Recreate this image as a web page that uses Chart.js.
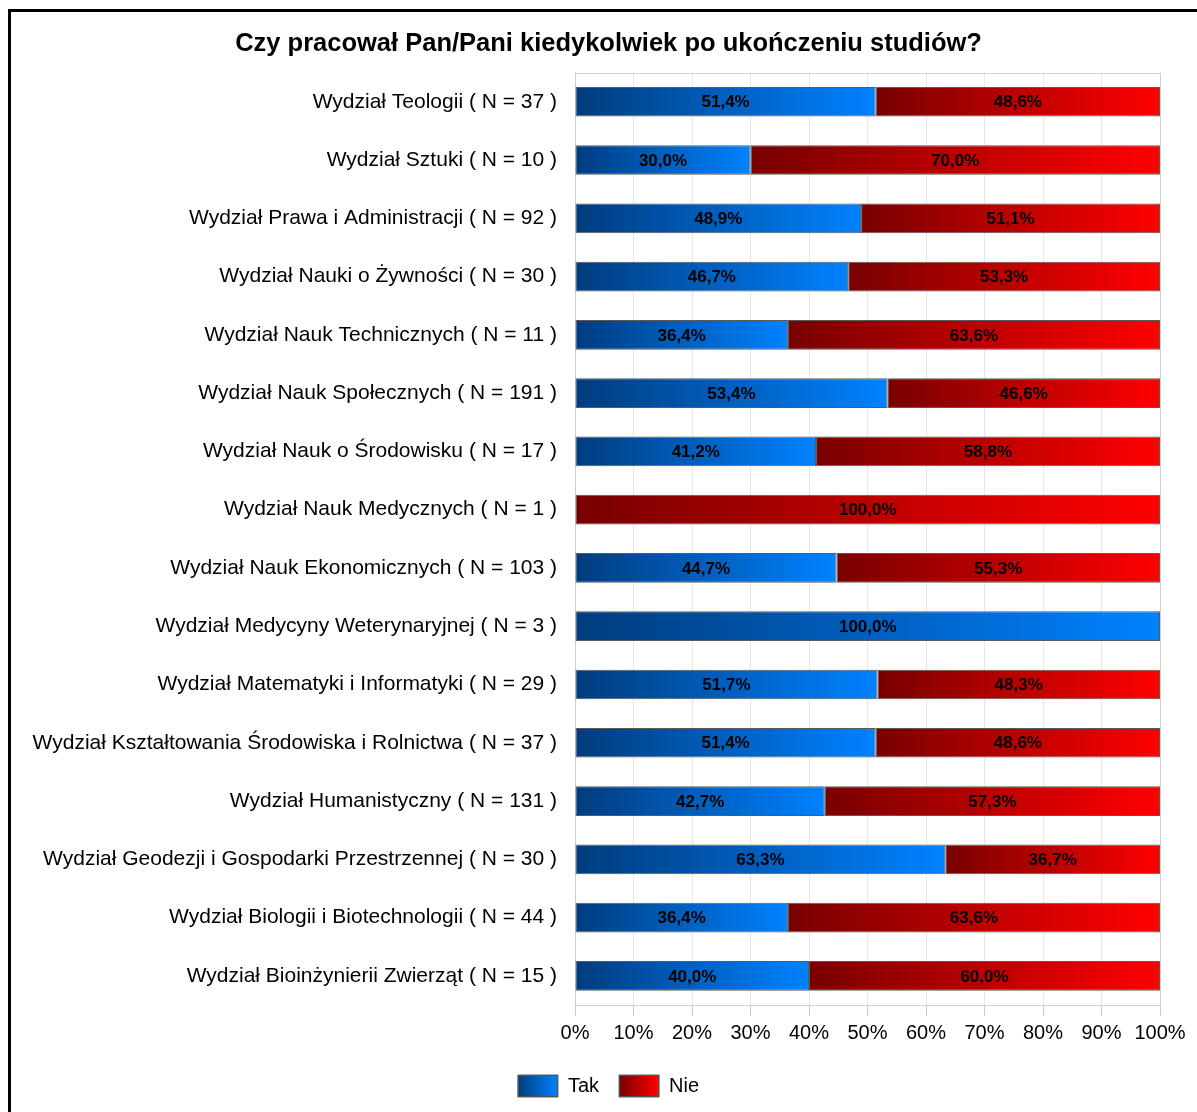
<!DOCTYPE html>
<html>
<head>
<meta charset="utf-8">
<script src="https://cdn.jsdelivr.net/npm/chart.js@4.4.0/dist/chart.umd.min.js"></script>
<style>
  body { margin: 0; background: #fff; overflow: hidden; }
  #frame { position: absolute; left: 8px; top: 9px; width: 1400px; height: 1400px; border: 3px solid #000; }
  #wrap { position: absolute; left: 0; top: 0; width: 1197px; height: 1112px; }
</style>
</head>
<body>
<div id="frame"></div>
<div id="wrap"><canvas id="chart"></canvas></div>
<script>
// Faculties, top to bottom
const faculties = [
    'Wydział Teologii ( N = 37 )',
    'Wydział Sztuki ( N = 10 )',
    'Wydział Prawa i Administracji ( N = 92 )',
    'Wydział Nauki o Żywności ( N = 30 )',
    'Wydział Nauk Technicznych ( N = 11 )',
    'Wydział Nauk Społecznych ( N = 191 )',
    'Wydział Nauk o Środowisku ( N = 17 )',
    'Wydział Nauk Medycznych ( N = 1 )',
    'Wydział Nauk Ekonomicznych ( N = 103 )',
    'Wydział Medycyny Weterynaryjnej ( N = 3 )',
    'Wydział Matematyki i Informatyki ( N = 29 )',
    'Wydział Kształtowania Środowiska i Rolnictwa ( N = 37 )',
    'Wydział Humanistyczny ( N = 131 )',
    'Wydział Geodezji i Gospodarki Przestrzennej ( N = 30 )',
    'Wydział Biologii i Biotechnologii ( N = 44 )',
    'Wydział Bioinżynierii Zwierząt ( N = 15 )'
];

// Percent answering "Tak" / "Nie"
const takValues = [51.4, 30.0, 48.9, 46.7, 36.4, 53.4, 41.2, 0, 44.7, 100.0, 51.7, 51.4, 42.7, 63.3, 36.4, 40.0];
const nieValues = [48.6, 70.0, 51.1, 53.3, 63.6, 46.6, 58.8, 100.0, 55.3, 0, 48.3, 48.6, 57.3, 36.7, 63.6, 60.0];

const xTicks = [0, 10, 20, 30, 40, 50, 60, 70, 80, 90, 100];

const seriesColors = [
    { dark: '#003c7e', light: '#0082ff' },  // Tak
    { dark: '#780000', light: '#ff0000' }   // Nie
];

Chart.defaults.font.family = '"Liberation Sans", Arial, sans-serif';
Chart.defaults.color = '#000';

// Horizontal gradient from the start of each segment to its end
function segmentGradient(context) {
    const chart = context.chart;
    const colors = seriesColors[context.datasetIndex];
    if (!chart.chartArea || context.dataIndex === undefined) return colors.light;
    const i = context.dataIndex;
    const start = context.datasetIndex === 0 ? 0 : takValues[i];
    const end = context.datasetIndex === 0 ? takValues[i] : takValues[i] + nieValues[i];
    const x0 = chart.scales.x.getPixelForValue(start);
    const x1 = chart.scales.x.getPixelForValue(end);
    if (x1 - x0 < 1) return colors.light;
    const g = chart.ctx.createLinearGradient(x0, 0, x1, 0);
    g.addColorStop(0, colors.dark);
    g.addColorStop(1, colors.light);
    return g;
}

// Frame around the plot area
const plotFrame = {
    id: 'plotFrame',
    beforeDatasetsDraw(chart) {
        const { ctx, chartArea: a } = chart;
        ctx.save();
        ctx.strokeStyle = '#cfcfcf';
        ctx.lineWidth = 1;
        ctx.strokeRect(Math.round(a.left) + 0.5, Math.round(a.top) + 0.5,
            Math.round(a.right - a.left), Math.round(a.bottom - a.top));
        ctx.restore();
    }
};

// Percent labels centred on each segment
const valueLabels = {
    id: 'valueLabels',
    afterDatasetsDraw(chart) {
        const ctx = chart.ctx;
        ctx.save();
        ctx.font = 'bold 17px "Liberation Sans", Arial, sans-serif';
        ctx.fillStyle = '#000';
        ctx.textAlign = 'center';
        ctx.textBaseline = 'middle';
        chart.data.datasets.forEach((ds, di) => {
            chart.getDatasetMeta(di).data.forEach((bar, i) => {
                const v = ds.data[i];
                if (!v) return;
                ctx.fillText(v.toFixed(1).replace('.', ',') + '%', (bar.x + bar.base) / 2, bar.y + 1);
            });
        });
        ctx.restore();
    }
};

// Gradient fill for legend boxes
const legendGradient = {
    id: 'legendGradient',
    afterDraw(chart) {
        const legend = chart.legend;
        if (!legend || !legend.legendHitBoxes) return;
        const ctx = chart.ctx;
        const bw = legend.options.labels.boxWidth;
        const bh = legend.options.labels.boxHeight;
        legend.legendHitBoxes.forEach((hb, i) => {
            const colors = seriesColors[i];
            const g = ctx.createLinearGradient(hb.left, 0, hb.left + bw, 0);
            g.addColorStop(0, colors.dark);
            g.addColorStop(1, colors.light);
            ctx.save();
            ctx.fillStyle = g;
            ctx.fillRect(hb.left, hb.top, bw, bh);
            ctx.strokeStyle = '#555';
            ctx.lineWidth = 1;
            ctx.strokeRect(hb.left + 0.5, hb.top + 0.5, bw - 1, bh - 1);
            ctx.restore();
        });
    }
};

const ctx = document.getElementById('chart').getContext('2d');
const chart = new Chart(ctx, {
    type: 'bar',
    data: {
        labels: faculties,
        datasets: [
            {
                label: 'Tak',
                data: takValues,
                backgroundColor: segmentGradient,
                borderColor: '#5a5a5a',
                borderWidth: 1,
                borderSkipped: false
            },
            {
                label: 'Nie',
                data: nieValues,
                backgroundColor: segmentGradient,
                borderColor: '#5a5a5a',
                borderWidth: 1,
                borderSkipped: false
            }
        ]
    },
    options: {
        indexAxis: 'y',
        responsive: true,
        maintainAspectRatio: false,
        animation: false,
        events: [],
        layout: { padding: { left: 57, right: 37, top: 0, bottom: 5 } },
        datasets: { bar: { categoryPercentage: 1, barPercentage: 0.51 } },
        scales: {
            x: {
                stacked: true,
                min: 0,
                max: 100,
                afterBuildTicks: (scale) => { scale.ticks = xTicks.map(v => ({ value: v })); },
                ticks: {
                    callback: (v) => v + '%',
                    font: { size: 20 },
                    color: '#000',
                    padding: 5,
                    maxRotation: 0
                },
                grid: { color: '#e6e6e6', tickLength: 11, tickColor: '#c8c8c8' },
                border: { color: '#c8c8c8' },
                afterFit: (scale) => { scale.height = 50; }
            },
            y: {
                stacked: true,
                grid: { display: false, drawTicks: false },
                border: { display: true, color: '#c8c8c8' },
                ticks: { font: { size: 21 }, color: '#000', padding: 18 },
                afterFit: (scale) => {
                    scale.width = 518;
                    // long labels reach past the left padding; do not clip them
                    scale._computeLabelArea = () => undefined;
                }
            }
        },
        plugins: {
            title: {
                display: true,
                text: 'Czy pracował Pan/Pani kiedykolwiek po ukończeniu studiów?',
                font: { size: 25.5, weight: 'bold' },
                color: '#000',
                padding: { top: 29, bottom: 13 }
            },
            legend: {
                position: 'bottom',
                labels: {
                    boxWidth: 40,
                    boxHeight: 22,
                    font: { size: 20 },
                    color: '#000',
                    padding: 20
                }
            },
            tooltip: { enabled: false }
        }
    },
    plugins: [plotFrame, valueLabels, legendGradient]
});
</script>
</body>
</html>
